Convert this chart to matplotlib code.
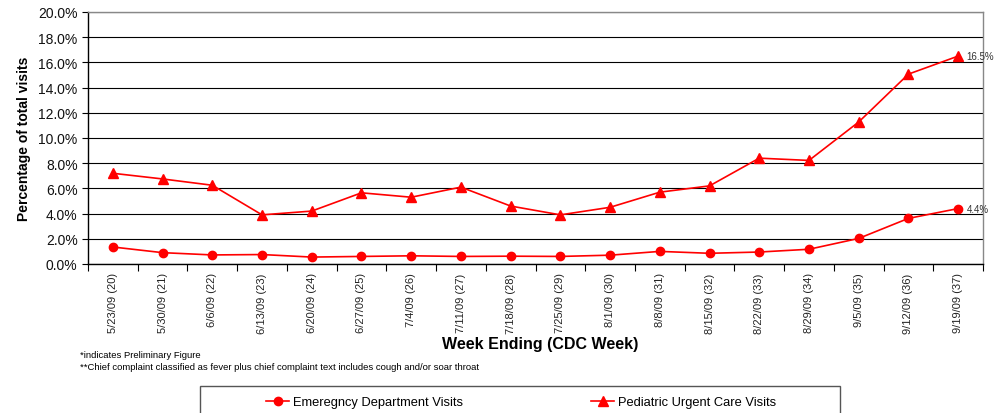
import matplotlib
matplotlib.use("Agg")
import matplotlib.pyplot as plt
from matplotlib.patches import Rectangle
from matplotlib.ticker import FuncFormatter, FixedLocator
import numpy as np

plt.rcParams['font.family'] = ['Liberation Sans', 'DejaVu Sans']

weeks = ["5/23/09 (20)", "5/30/09 (21)", "6/6/09 (22)", "6/13/09 (23)", "6/20/09 (24)",
         "6/27/09 (25)", "7/4/09 (26)", "7/11/09 (27)", "7/18/09 (28)", "7/25/09 (29)",
         "8/1/09 (30)", "8/8/09 (31)", "8/15/09 (32)", "8/22/09 (33)", "8/29/09 (34)",
         "9/5/09 (35)", "9/12/09 (36)", "9/19/09 (37)"]
ed_visits = [1.35, 0.90, 0.72, 0.75, 0.55, 0.60, 0.65, 0.60, 0.62, 0.60,
             0.70, 1.00, 0.85, 0.95, 1.17, 2.03, 3.62, 4.4]
puc_visits = [7.2, 6.75, 6.25, 3.9, 4.2, 5.65, 5.3, 6.1, 4.6, 3.9,
              4.5, 5.7, 6.2, 8.4, 8.22, 11.27, 15.07, 16.5]

fig = plt.figure(figsize=(10.07, 4.14), dpi=100)
ax = fig.add_axes([88/1007, 1-265/414, (983-88)/1007, (265-13)/414])

x = np.arange(len(weeks))
red = '#FF0000'
l1, = ax.plot(x, ed_visits, color=red, lw=1.2, marker='o', markersize=6,
              label='Emeregncy Department Visits', zorder=3, clip_on=False)
l2, = ax.plot(x, puc_visits, color=red, lw=1.2, marker='^', markersize=6.5,
              label='Pediatric Urgent Care Visits', zorder=3, clip_on=False)

ax.set_xlim(-0.5, len(weeks) - 0.5)
ax.set_ylim(0, 20)
ax.set_yticks(np.arange(0, 21, 2))
ax.yaxis.set_major_formatter(FuncFormatter(lambda v, p: f"{v:.1f}%"))
ax.grid(axis='y', color='black', lw=0.8)
ax.set_axisbelow(True)

ax.set_xticks(x)
ax.set_xticklabels(weeks, rotation=90, fontsize=8, color='#222222')
ax.xaxis.set_minor_locator(FixedLocator(np.arange(-0.5, len(weeks), 1)))
ax.tick_params(axis='x', which='major', length=0, pad=6)
ax.tick_params(axis='x', which='minor', length=5, width=0.8, color='black', direction='out')
ax.tick_params(axis='y', length=4, width=0.8, labelsize=10, color='black', labelcolor='#111111')

for s in ['left', 'bottom']:
    ax.spines[s].set_color('black')
    ax.spines[s].set_linewidth(1.0)
for s in ['top', 'right']:
    ax.spines[s].set_color('#888888')
    ax.spines[s].set_linewidth(1.0)

ax.annotate(f"{puc_visits[-1]:.1f}%", (x[-1], puc_visits[-1]), xytext=(6, 0),
            textcoords='offset points', va='center', ha='left', fontsize=7, color='#333333')
ax.annotate(f"{ed_visits[-1]:.1f}%", (x[-1], ed_visits[-1]), xytext=(6, 0),
            textcoords='offset points', va='center', ha='left', fontsize=7, color='#333333')

ax.set_ylabel("Percentage of total visits", fontsize=10, fontweight='bold', labelpad=5)
fig.text(540/1007, 1-345/414, "Week Ending (CDC Week)", ha='center', va='center',
         fontsize=11.5, fontweight='bold')

fig.text(80/1007, 1-356/414, "*indicates Preliminary Figure", fontsize=6.8, va='center', ha='left')
fig.text(80/1007, 1-368/414,
         "**Chief complaint classified as fever plus chief complaint text includes cough and/or soar throat",
         fontsize=6.8, va='center', ha='left')

fig.patches.append(Rectangle((200/1007, -0.1), (840-200)/1007, 0.1 + 1-387/414,
                             transform=fig.transFigure, fill=False, edgecolor='#555555', lw=1.0))
fig.legend(handles=[l1], loc='center left', bbox_to_anchor=(266/1007, 1-403/414),
           frameon=False, fontsize=9.3, borderpad=0, borderaxespad=0, handletextpad=0.3,
           handlelength=1.8)
fig.legend(handles=[l2], loc='center left', bbox_to_anchor=(591/1007, 1-403/414),
           frameon=False, fontsize=9.3, borderpad=0, borderaxespad=0, handletextpad=0.3,
           handlelength=1.8)

fig.savefig("out.png", dpi=100)
